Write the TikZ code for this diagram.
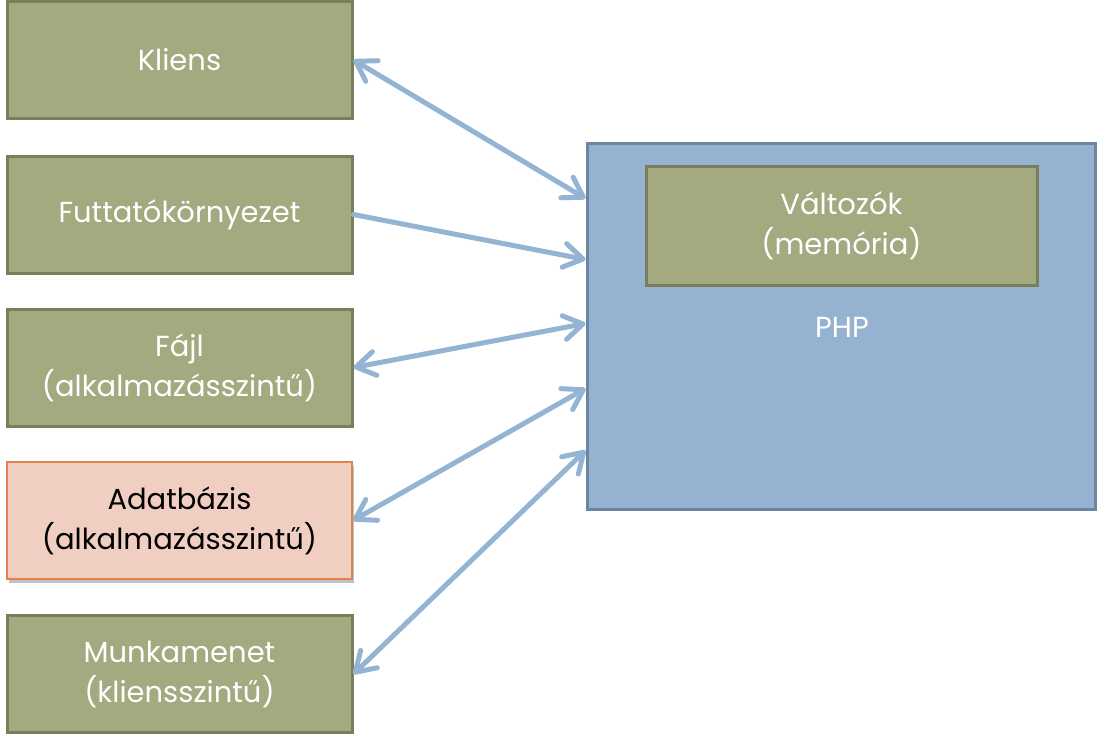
\documentclass[tikz,border=0pt]{standalone}
\usepackage{fontspec}
\setmainfont{Poppins}
\usetikzlibrary{arrows.meta,calc,shadows}
\definecolor{gfill}{RGB}{165,169,127}
\definecolor{gdraw}{RGB}{122,126,90}
\definecolor{bfill}{RGB}{149,179,208}
\definecolor{bdraw}{RGB}{106,134,160}
\definecolor{arr}{RGB}{147,180,211}
\definecolor{pfill}{RGB}{240,206,193}
\definecolor{pdraw}{RGB}{224,130,75}
\tikzset{
  gbox/.style={draw=gdraw, fill=gfill, line width=3pt, text=white, align=center,
    minimum width=345pt, minimum height=117pt, inner sep=0pt,
    font=\fontsize{29}{40}\selectfont},
  pbox/.style={gbox, draw=pdraw, fill=pfill, text=black, line width=2pt,
    drop shadow={shadow xshift=2pt, shadow yshift=-4pt, opacity=0.35, fill=black!70}},
  phpbox/.style={draw=bdraw, fill=bfill, line width=3pt, minimum width=508pt,
    minimum height=366pt, inner sep=0pt},
  lbl/.style={text=white, font=\fontsize{29}{40}\selectfont, align=center},
  conn/.style={draw=arr, line width=5pt, line cap=round},
  barbtip/.tip={Straight Barb[length=19pt, width=24pt, line cap=round, round]},
}
\begin{document}
\begin{tikzpicture}[x=1pt, y=-1pt]
\useasboundingbox (0,0) rectangle (1097,742);
\node[gbox] (kl) at (179.5,60) {Kliens};
\node[gbox] (fu) at (179.5,214.5) {Futtatókörnyezet};
\node[gbox] (fa) at (179.5,367.5) {Fájl\\(alkalmazásszintű)};
\node[pbox] (ad) at (179.5,520.5) {Adatbázis\\(alkalmazásszintű)};
\node[gbox] (mu) at (179.5,674) {Munkamenet\\(kliensszintű)};
\node[phpbox] (php) at (841,326) {};
\node[gbox, minimum width=391pt, minimum height=119pt] (va) at (841.5,225.5) {Változók\\(memória)};
\node[lbl] (phpl) at (842,327) {PHP};
\coordinate (p1) at ($(php.north west)+(0,57)$);
\coordinate (p2) at ($(php.north west)+(0,118)$);
\coordinate (p3) at ($(php.north west)+(0,182)$);
\coordinate (p4) at ($(php.north west)+(0,247)$);
\coordinate (p5) at ($(php.north west)+(0,309)$);
\draw[conn, barbtip-barbtip] (kl.east) -- (p1);
\draw[conn, -barbtip] (fu.east) -- (p2);
\draw[conn, barbtip-barbtip] (fa.east) -- (p3);
\draw[conn, barbtip-barbtip] (ad.east) -- (p4);
\draw[conn, barbtip-barbtip] (mu.east) -- (p5);
\end{tikzpicture}
\end{document}
